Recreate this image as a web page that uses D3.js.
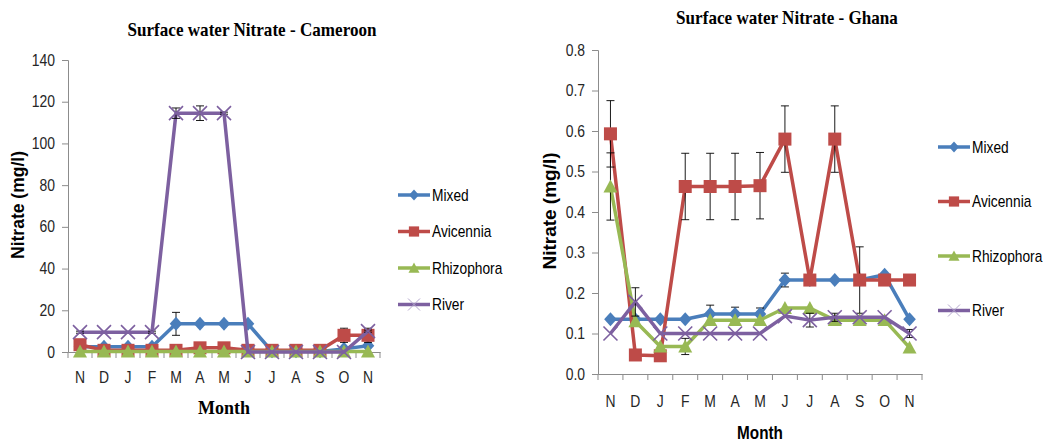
<!DOCTYPE html>
<html>
<head>
<meta charset="utf-8">
<script src="https://cdn.jsdelivr.net/npm/d3@7"></script>
<style>
  html, body { margin: 0; padding: 0; background: #fff; }
  svg { display: block; }
</style>
</head>
<body>
<svg id="chart" width="1045" height="443"></svg>
<script>
// Month labels (Nov to Nov)
const months = ["N", "D", "J", "F", "M", "A", "M", "J", "J", "A", "S", "O", "N"];
const seriesNames = ["Mixed", "Avicennia", "Rhizophora", "River"];

// Cameroon surface water nitrate (mg/l)
const camMixed      = [2.5, 2.5, 2.5, 2.5, 13.5, 13.5, 13.5, 13.5, 0.3, 0.3, 0.3, 1.5, 3];
const camMixedErr   = [0, 0, 0, 0, 5.5, 0, 0, 0, 0, 0, 0, 0, 0];
const camAvicennia  = [3.5, 0.8, 0.8, 0.8, 0.8, 2, 2, 0.8, 0.8, 0.8, 0.8, 8, 8];
const camAviErr     = [0, 0, 0, 0, 0, 0, 0, 0, 0, 0, 0, 3.4, 3.4];
const camRhizophora = [0.2, 0.2, 0.2, 0.2, 0.2, 0.2, 0.2, 0.2, 0.2, 0.2, 0.2, 0.2, 0.2];
const camRhizErr    = [0, 0, 0, 0, 0, 0, 0, 0, 0, 0, 0, 0, 0];
const camRiver      = [9.5, 9.5, 9.5, 9.5, 114.5, 114.5, 114.5, 0, 0, 0, 0, 0, 10];
const camRiverErr   = [0.5, 0, 0, 0.5, 2.5, 3.5, 0.5, 0, 0, 0, 0, 0, 0.5];
const camTicks      = [0, 20, 40, 60, 80, 100, 120, 140];

// Ghana surface water nitrate (mg/l)
const ghMixed       = [0.135, 0.135, 0.135, 0.135, 0.148, 0.148, 0.148, 0.232, 0.232, 0.232, 0.232, 0.245, 0.135];
const ghMixedErr    = [0, 0, 0, 0, 0.022, 0.017, 0.015, 0.017, 0, 0, 0, 0, 0];
const ghAvicennia   = [0.593, 0.047, 0.045, 0.463, 0.463, 0.463, 0.465, 0.58, 0.232, 0.58, 0.232, 0.232, 0.232];
const ghAviErr      = [0.082, 0, 0, 0.082, 0.082, 0.082, 0.082, 0.082, 0, 0.082, 0.082, 0, 0];
const ghRhizophora  = [0.463, 0.13, 0.068, 0.068, 0.133, 0.133, 0.133, 0.163, 0.163, 0.133, 0.133, 0.133, 0.065];
const ghRhizErr     = [0.083, 0, 0, 0.02, 0, 0, 0, 0, 0, 0, 0, 0, 0];
const ghRiver       = [0.1, 0.178, 0.1, 0.1, 0.1, 0.1, 0.1, 0.143, 0.133, 0.14, 0.14, 0.14, 0.1];
const ghRiverErr    = [0, 0.035, 0, 0, 0, 0, 0, 0, 0.017, 0.01, 0, 0, 0.01];
const ghTicks       = [0, 0.1, 0.2, 0.3, 0.4, 0.5, 0.6, 0.7, 0.8];

const colors  = ["#4A7EBB", "#BE4B48", "#98B954", "#7D60A0"];
const markers = ["diamond", "square", "triangle", "cross"];

const svg = d3.select("#chart");
const sansFont = "'Liberation Sans', Arial, sans-serif";
const serifFont = "'Liberation Serif', 'Times New Roman', serif";
const NARROW = 0.87; // horizontal squeeze to mimic a condensed UI face

function markerPath(type, r) {
  const p = d3.path();
  if (type === "diamond") {
    p.moveTo(0, -r); p.lineTo(r * 0.9, 0); p.lineTo(0, r); p.lineTo(-r * 0.9, 0); p.closePath();
  } else if (type === "square") {
    p.rect(-r * 0.93, -r * 0.93, r * 1.86, r * 1.86);
  } else if (type === "triangle") {
    p.moveTo(0, -r); p.lineTo(r, r * 0.85); p.lineTo(-r, r * 0.85); p.closePath();
  } else {
    p.moveTo(-r, -r); p.lineTo(r, r); p.moveTo(r, -r); p.lineTo(-r, r);
  }
  return p.toString();
}

function drawMarker(g, type, color, x, y, r) {
  const m = g.append("path")
    .attr("transform", `translate(${x},${y})`)
    .attr("d", markerPath(type, r));
  if (type === "cross") {
    m.attr("fill", "none").attr("stroke", color).attr("stroke-width", 1.6);
  } else {
    m.attr("fill", color).attr("stroke", "none");
  }
  return m;
}

// Squeeze a text horizontally while keeping its anchor point in place
function squeeze(sel, k) {
  sel.each(function () {
    const t = d3.select(this);
    const x = +t.attr("x") || 0;
    const y = +t.attr("y") || 0;
    t.attr("x", 0).attr("y", 0)
      .attr("transform", `translate(${x},${y}) scale(${k},1)`);
  });
}

function drawChart(cfg) {
  const g = svg.append("g");
  const x = d3.scaleBand().domain(d3.range(months.length)).range([cfg.left, cfg.right]);
  const y = d3.scaleLinear().domain([0, d3.max(cfg.ticks)]).range([cfg.bottom, cfg.top]);

  // Y axis
  const yAxis = g.append("g").attr("transform", `translate(${cfg.left},0)`)
    .call(d3.axisLeft(y).tickValues(cfg.ticks).tickSize(6).tickPadding(7)
      .tickFormat(cfg.tickFormat));
  yAxis.select(".domain").attr("stroke", "#8C8C8C");
  yAxis.selectAll(".tick line").attr("stroke", "#8C8C8C");
  yAxis.selectAll(".tick text").attr("fill", "#262626")
    .style("font-family", sansFont).style("font-size", "16px")
    .call(squeeze, NARROW);

  // X axis with ticks on category boundaries
  const xAxis = g.append("g").attr("transform", `translate(0,${cfg.bottom})`)
    .call(d3.axisBottom(x).tickSize(0).tickPadding(cfg.xPad).tickFormat(i => months[i]));
  xAxis.select(".domain").attr("stroke", "#8C8C8C");
  xAxis.selectAll(".tick text").attr("fill", "#262626")
    .style("font-family", sansFont).style("font-size", "16px")
    .call(squeeze, NARROW);
  const bounds = d3.range(months.length + 1).map(i => cfg.left + i * x.bandwidth());
  g.append("g").selectAll("line").data(bounds).join("line")
    .attr("x1", d => d).attr("x2", d => d)
    .attr("y1", cfg.bottom).attr("y2", cfg.bottom + 6)
    .attr("stroke", "#8C8C8C");

  // Series: line, error bars, markers
  const cx = i => x(i) + x.bandwidth() / 2;
  cfg.series.forEach((vals, s) => {
    const sg = g.append("g");
    sg.append("path")
      .datum(vals)
      .attr("fill", "none")
      .attr("stroke", colors[s])
      .attr("stroke-width", 3.5)
      .attr("stroke-linejoin", "round")
      .attr("d", d3.line().x((d, i) => cx(i)).y(d => y(d)));
    const errs = cfg.errors[s];
    vals.forEach((v, i) => {
      const e = errs[i];
      if (e > 0) {
        const y1 = y(v + e), y2 = y(Math.max(0, v - e));
        sg.append("line").attr("x1", cx(i)).attr("x2", cx(i)).attr("y1", y1).attr("y2", y2)
          .attr("stroke", "#000").attr("stroke-width", 0.9);
        [y1, y2].forEach(yy => sg.append("line")
          .attr("x1", cx(i) - 4).attr("x2", cx(i) + 4).attr("y1", yy).attr("y2", yy)
          .attr("stroke", "#000").attr("stroke-width", 0.9));
      }
    });
    vals.forEach((v, i) => drawMarker(sg, markers[s], colors[s], cx(i), y(v), 7));
  });

  // Title
  g.append("text")
    .attr("x", cfg.titleX).attr("y", cfg.titleY)
    .attr("text-anchor", "middle")
    .style("font-family", serifFont).style("font-weight", "bold").style("font-size", "18px")
    .attr("fill", "#000")
    .text(cfg.title)
    .call(squeeze, 0.95);

  // Axis titles
  const xt = g.append("text")
    .attr("x", (cfg.left + cfg.right) / 2).attr("y", cfg.xTitleY)
    .attr("text-anchor", "middle")
    .style("font-family", cfg.xTitleSerif ? serifFont : sansFont)
    .style("font-weight", "bold").style("font-size", "18px")
    .attr("fill", "#000")
    .text("Month");
  if (!cfg.xTitleSerif) xt.call(squeeze, 0.85);
  g.append("text")
    .attr("transform", `translate(${cfg.yTitleX},${cfg.yTitleY}) rotate(-90)`)
    .attr("text-anchor", "middle")
    .style("font-family", sansFont)
    .style("font-weight", "bold").style("font-size", cfg.yTitleSize)
    .attr("fill", "#000")
    .text("Nitrate (mg/l)");

  // Legend
  const lg = g.append("g");
  seriesNames.forEach((name, s) => {
    const ly = cfg.legendY + s * cfg.legendStep;
    lg.append("line")
      .attr("x1", cfg.legendX).attr("x2", cfg.legendX + 32)
      .attr("y1", ly).attr("y2", ly)
      .attr("stroke", colors[s]).attr("stroke-width", 3.5);
    const mk = drawMarker(lg, markers[s], colors[s], cfg.legendX + 16, ly, markers[s] === "cross" ? 6 : 5.5);
    if (markers[s] === "cross") mk.attr("stroke", "#B3A6CC").attr("stroke-width", 1);
    lg.append("text")
      .attr("x", cfg.legendX + 34).attr("y", ly + 5.5)
      .style("font-family", sansFont).style("font-size", "16px")
      .attr("fill", "#000")
      .text(name)
      .call(squeeze, 0.86);
  });
}

drawChart({
  title: "Surface water Nitrate - Cameroon",
  titleX: 252, titleY: 36,
  left: 68, right: 380, top: 60, bottom: 352,
  ticks: camTicks, tickFormat: d3.format("d"), xPad: 20,
  series: [camMixed, camAvicennia, camRhizophora, camRiver],
  errors: [camMixedErr, camAviErr, camRhizErr, camRiverErr],
  xTitleY: 414, xTitleSerif: true,
  yTitleX: 24, yTitleY: 205, yTitleSize: "17.5px",
  legendX: 398, legendY: 195, legendStep: 36.5
});

drawChart({
  title: "Surface water Nitrate - Ghana",
  titleX: 787, titleY: 24,
  left: 598, right: 922, top: 50, bottom: 374,
  ticks: ghTicks, tickFormat: d3.format(".1f"), xPad: 22,
  series: [ghMixed, ghAvicennia, ghRhizophora, ghRiver],
  errors: [ghMixedErr, ghAviErr, ghRhizErr, ghRiverErr],
  xTitleY: 439, xTitleSerif: false,
  yTitleX: 556, yTitleY: 211, yTitleSize: "19px",
  legendX: 938, legendY: 147, legendStep: 54.5
});
</script>
</body>
</html>
